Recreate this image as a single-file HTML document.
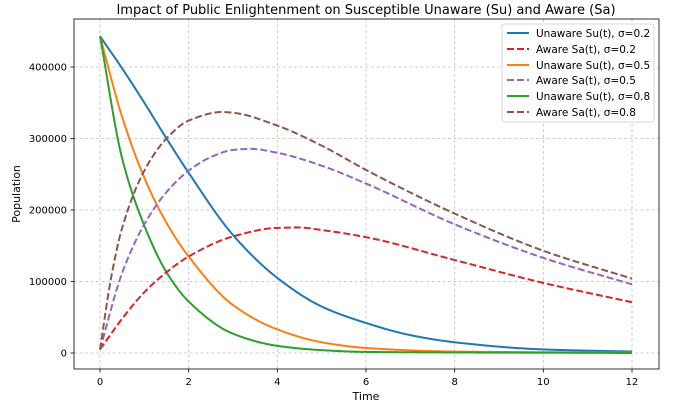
<!DOCTYPE html>
<html><head><meta charset="utf-8"><style>
body{margin:0;background:#fff}
svg{display:block;font-family:"DejaVu Sans","Liberation Sans",sans-serif}
</style></head><body>
<svg id="s" width="675" height="407" viewBox="0 0 675 407">
<rect width="675" height="407" fill="#fff"/>
<g stroke="#b0b0b0" stroke-width="0.8" stroke-dasharray="3,2.5" opacity="0.8">
<line x1="100" y1="19" x2="100" y2="369"/><line x1="188.7" y1="19" x2="188.7" y2="369"/>
<line x1="277.3" y1="19" x2="277.3" y2="369"/><line x1="366" y1="19" x2="366" y2="369"/>
<line x1="454.7" y1="19" x2="454.7" y2="369"/><line x1="543.3" y1="19" x2="543.3" y2="369"/>
<line x1="632" y1="19" x2="632" y2="369"/>
<line x1="74" y1="353" x2="659" y2="353"/><line x1="74" y1="281.5" x2="659" y2="281.5"/>
<line x1="74" y1="210" x2="659" y2="210"/><line x1="74" y1="138.5" x2="659" y2="138.5"/>
<line x1="74" y1="67" x2="659" y2="67"/>
</g>
<g id="curves" fill="none" stroke-width="2" stroke-linejoin="round"></g>
<rect x="74" y="19" width="585" height="350" fill="none" stroke="#000" stroke-width="0.8"/>
<g stroke="#000" stroke-width="0.8">
<line x1="100" y1="369" x2="100" y2="372.5"/><line x1="188.7" y1="369" x2="188.7" y2="372.5"/>
<line x1="277.3" y1="369" x2="277.3" y2="372.5"/><line x1="366" y1="369" x2="366" y2="372.5"/>
<line x1="454.7" y1="369" x2="454.7" y2="372.5"/><line x1="543.3" y1="369" x2="543.3" y2="372.5"/>
<line x1="632" y1="369" x2="632" y2="372.5"/>
<line x1="70.5" y1="353" x2="74" y2="353"/><line x1="70.5" y1="281.5" x2="74" y2="281.5"/>
<line x1="70.5" y1="210" x2="74" y2="210"/><line x1="70.5" y1="138.5" x2="74" y2="138.5"/>
<line x1="70.5" y1="67" x2="74" y2="67"/>
</g>
<g font-size="10" fill="#000" text-anchor="middle">
<text x="100" y="385">0</text><text x="188.7" y="385">2</text><text x="277.3" y="385">4</text>
<text x="366" y="385">6</text><text x="454.7" y="385">8</text><text x="543.3" y="385">10</text><text x="632" y="385">12</text>
</g>
<g font-size="10" fill="#000" text-anchor="end">
<text x="67" y="356.5">0</text><text x="67" y="285">100000</text><text x="67" y="213.5">200000</text>
<text x="67" y="142">300000</text><text x="67" y="70.5">400000</text>
</g>
<text x="366" y="400" font-size="11" text-anchor="middle">Time</text>
<text x="20" y="194" font-size="11" text-anchor="middle" transform="rotate(-90 20 194)">Population</text>
<text x="366" y="14" font-size="13" text-anchor="middle">Impact of Public Enlightenment on Susceptible Unaware (Su) and Aware (Sa)</text>
<rect x="502" y="24" width="152" height="98" rx="2" fill="#fff" fill-opacity="0.85" stroke="#ccc" stroke-width="0.8"/>
<g stroke-width="2">
<line x1="507" y1="33" x2="529" y2="33" stroke="#1f77b4"/>
<line x1="507" y1="49" x2="529" y2="49" stroke="#d62728" stroke-dasharray="7,3"/>
<line x1="507" y1="65" x2="529" y2="65" stroke="#ff7f0e"/>
<line x1="507" y1="80" x2="529" y2="80" stroke="#9467bd" stroke-dasharray="7,3"/>
<line x1="507" y1="96" x2="529" y2="96" stroke="#2ca02c"/>
<line x1="507" y1="112" x2="529" y2="112" stroke="#8c564b" stroke-dasharray="7,3"/>
</g>
<g font-size="10.5" fill="#000">
<text x="536" y="37">Unaware Su(t), σ=0.2</text>
<text x="536" y="53">Aware Sa(t), σ=0.2</text>
<text x="536" y="69">Unaware Su(t), σ=0.5</text>
<text x="536" y="84">Aware Sa(t), σ=0.5</text>
<text x="536" y="100">Unaware Su(t), σ=0.8</text>
<text x="536" y="116">Aware Sa(t), σ=0.8</text>
</g>
</svg>
<script>
const X=t=>100+t*532/12, Y=v=>353-v*0.000715;
const S=[
["#1f77b4",0,[[0,443000],[0.5,398000],[1,350000],[1.5,300000],[2,252000],[3,165000],[4,105000],[5,65000],[6,42000],[7,25000],[8,15000],[10,5000],[12,2000]]],
["#ff7f0e",0,[[0,443000],[0.5,330000],[1,245000],[1.5,182000],[2,135000],[3,67000],[4,33000],[5,15000],[6,7000],[8,2000],[12,500]]],
["#2ca02c",0,[[0,443000],[0.5,272000],[1,178000],[1.5,113000],[2,72000],[3,27000],[4,10000],[5,4000],[6,1500],[12,0]]],
["#d62728",1,[[0,5000],[0.5,48000],[1,85000],[1.5,113000],[2,135000],[3,163000],[4,175000],[4.5,175500],[5,172000],[6,162000],[8,130000],[10,98000],[12,71000]]],
["#9467bd",1,[[0,5000],[0.5,112000],[1,180000],[1.5,225000],[2,255000],[2.5,274000],[3,284000],[3.4,285500],[4,280000],[5,262000],[6,237000],[8,180000],[10,133000],[12,96000]]],
["#8c564b",1,[[0,5000],[0.25,105000],[0.5,175000],[1,255000],[1.5,300000],[2,325000],[2.75,337000],[3,336000],[4,318000],[5,290000],[6,256000],[8,195000],[10,143000],[12,104000]]]];
function mono(pts){
 const n=pts.length,x=pts.map(p=>p[0]),y=pts.map(p=>p[1]),d=[],m=[];
 for(let i=0;i<n-1;i++)d.push((y[i+1]-y[i])/(x[i+1]-x[i]));
 m[0]=d[0];m[n-1]=d[n-2];
 for(let i=1;i<n-1;i++){
  if(d[i-1]*d[i]<=0)m[i]=0;else{const w1=2*(x[i+1]-x[i])+(x[i]-x[i-1]),w2=(x[i+1]-x[i])+2*(x[i]-x[i-1]);m[i]=(w1+w2)/(w1/d[i-1]+w2/d[i]);}
 }
 return t=>{let i=0;while(i<n-2&&t>x[i+1])i++;const h=x[i+1]-x[i],s=(t-x[i])/h,s2=s*s,s3=s2*s;
  return (2*s3-3*s2+1)*y[i]+(s3-2*s2+s)*h*m[i]+(-2*s3+3*s2)*y[i+1]+(s3-s2)*h*m[i+1];};
}
const g=document.getElementById("curves");
for(const [c,d,pts] of S){
 const f=mono(pts);let s="";
 for(let k=0;k<=600;k++){const t=k*0.02;s+=(k?"L":"M")+X(t).toFixed(2)+","+Y(f(t)).toFixed(2);}
 const e=document.createElementNS("http://www.w3.org/2000/svg","path");
 e.setAttribute("d",s);e.setAttribute("stroke",c);
 if(d)e.setAttribute("stroke-dasharray","7,3");
 g.appendChild(e);
}
</script>
</body></html>
